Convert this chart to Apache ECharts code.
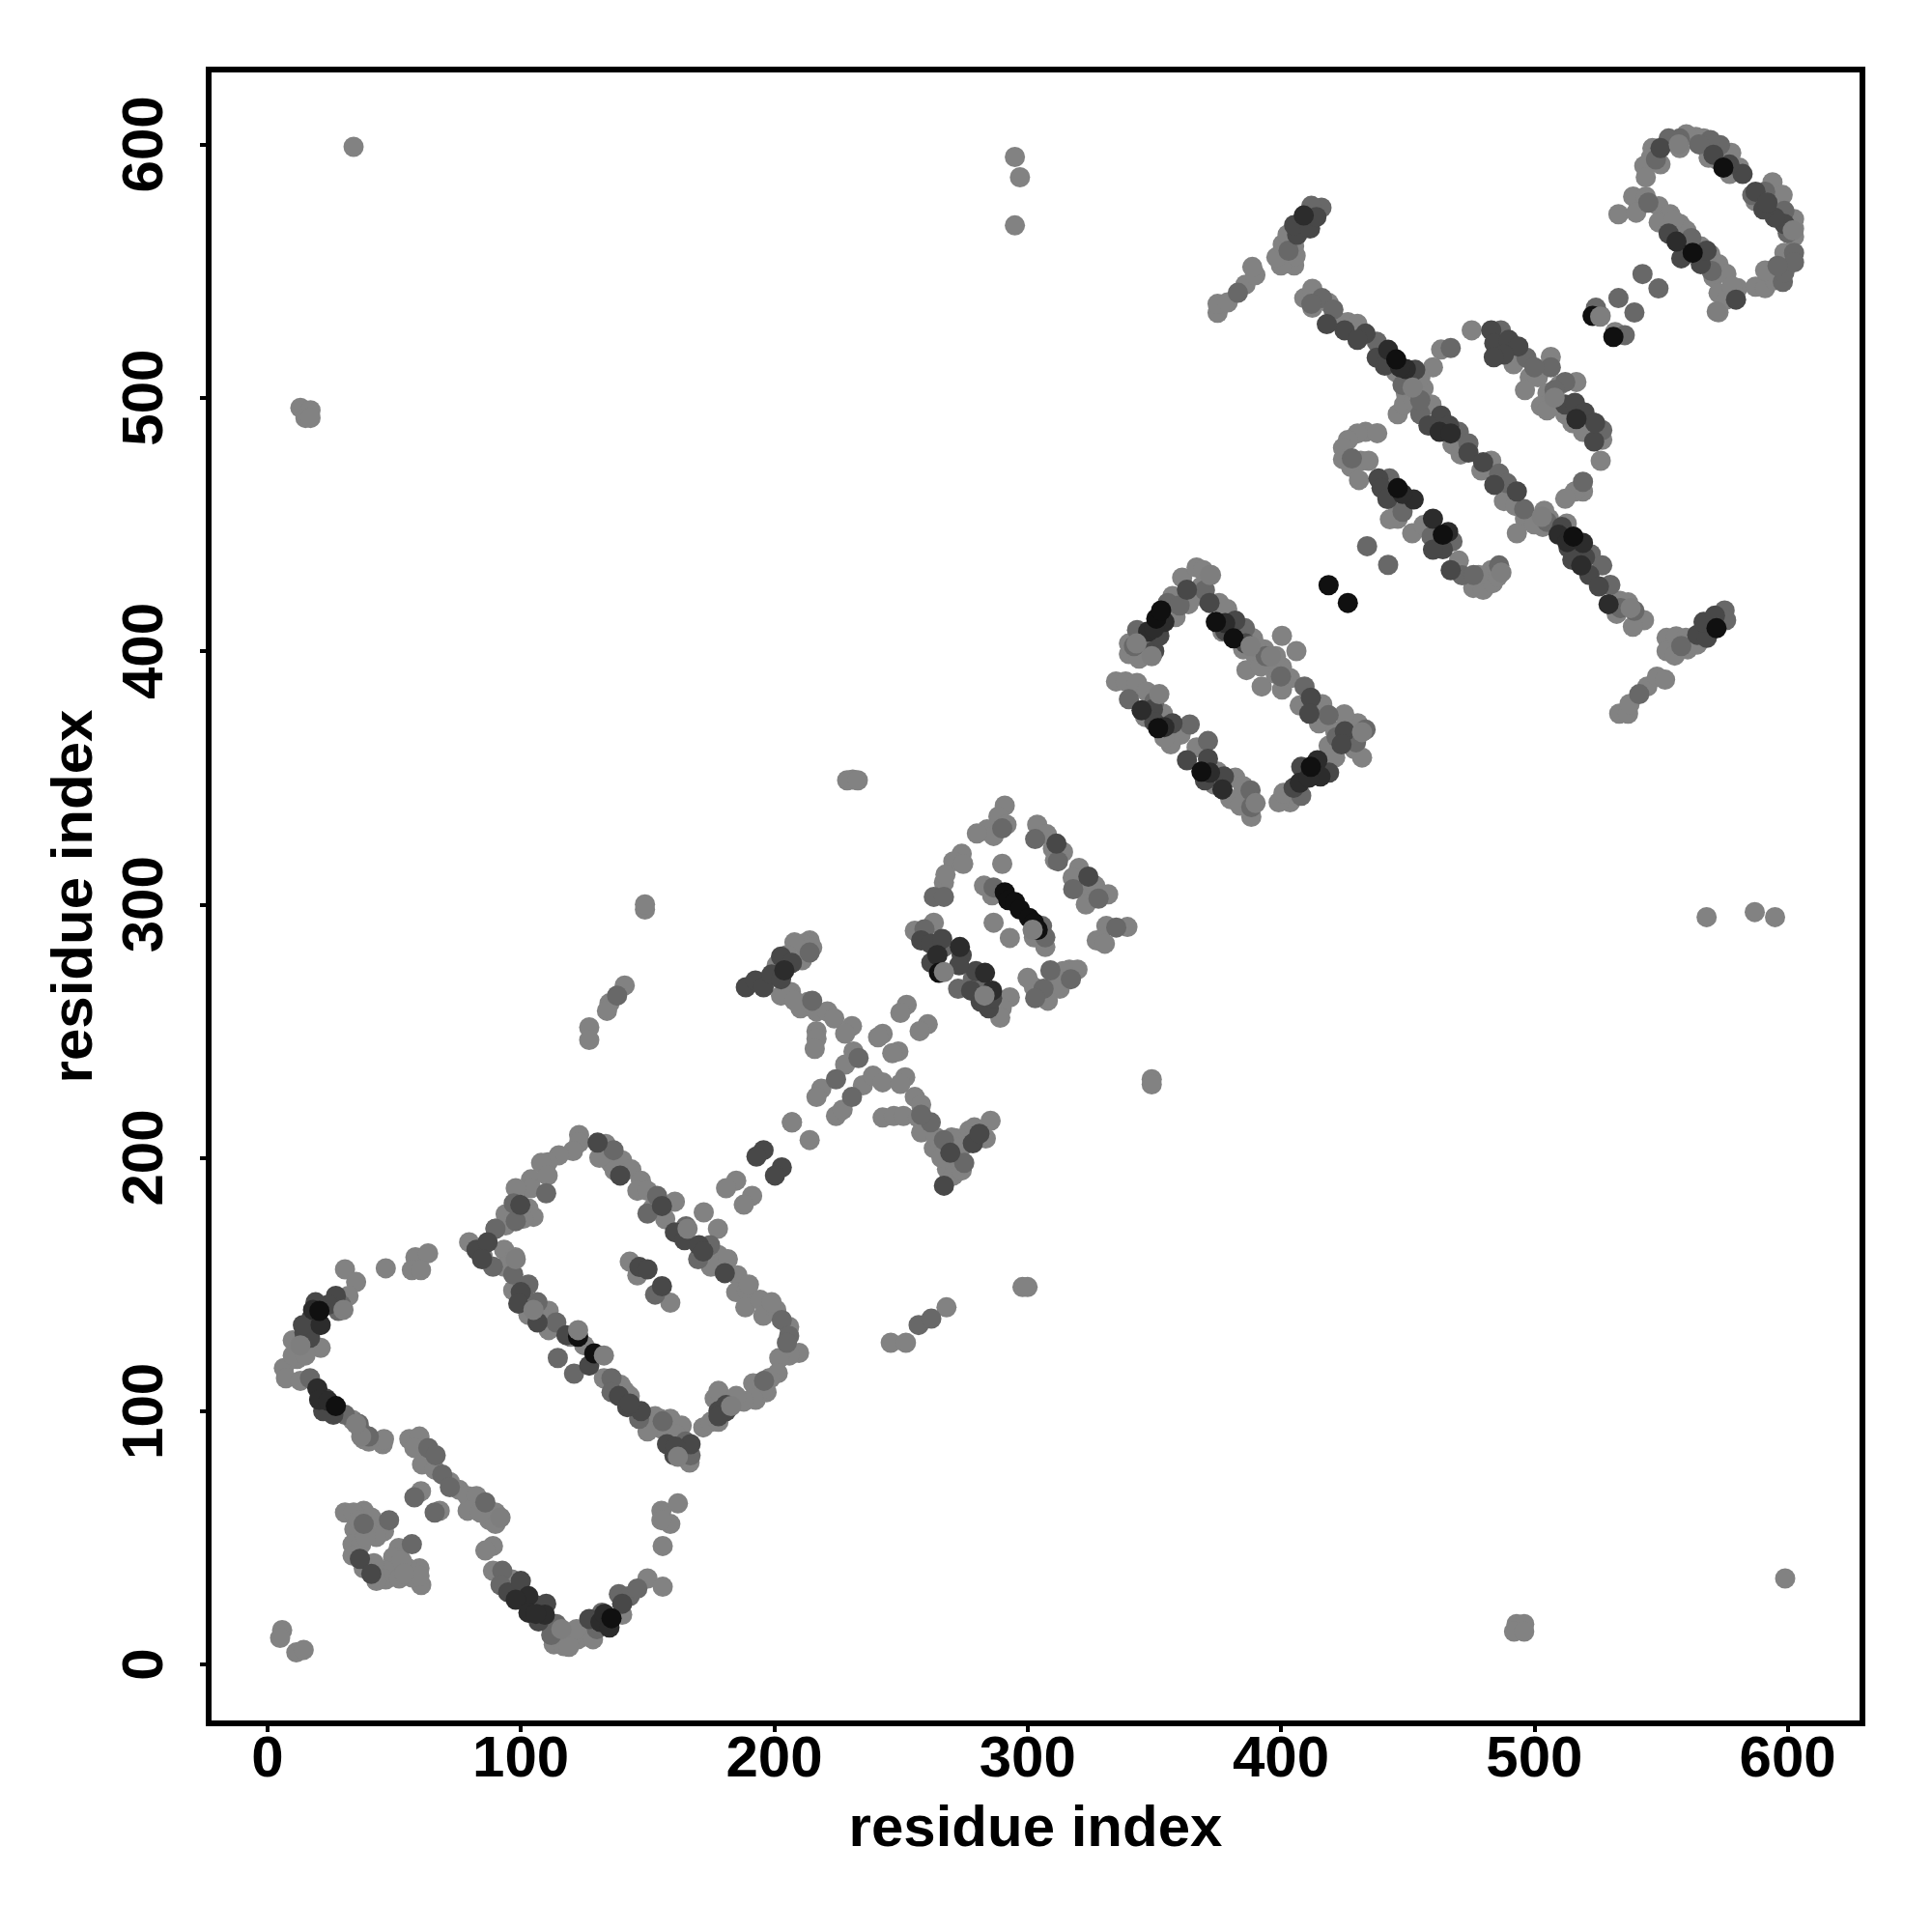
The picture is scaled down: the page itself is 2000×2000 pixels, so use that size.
<!DOCTYPE html>
<html><head><meta charset="utf-8">
<script src="https://cdn.jsdelivr.net/npm/echarts@6/dist/echarts.min.js"></script>
<style>html,body{margin:0;padding:0;background:#fff}#c{width:2000px;height:2000px}</style></head>
<body><div id="c"></div>
<script>
const tickValues=[0,100,200,300,400,500,600];
const axisTitle="residue index";
const lightPts=[[5.8,13.6],[5,10.5],[11.4,4.8],[14.3,5.8],[34,599],[295,595],[297,587],[295,568],[568,295],[587,297],[595,295],[599,34],[13,496],[17,495],[15,492],[17,492],[493,16],[496,16],[492,13],[496,13],
[30.6,156],[35,151],[32,145.5],[6.5,117],[10,128],[12.4,125],[11.7,120.6],[10,122],[7.3,113],[13,112],[33.6,96.5],[37,92],[38,89],[45.5,87],[46,89],[56,89],[60,90],[58,85.5],[61,79],[75.6,69],[79,66.5],[82.5,66.5],[90,60],[87.6,57],[90,55.5],[79,60.7],[89,46.8],[86,45],[89,37],[96.4,33.6],[113,8],[117,7.3],[119.7,11.7],[122.6,10],[125.5,12.4],[128.5,10],[140,19.7],[150,34],[156,30.7],[156,46.8],[155.5,60.7],[159,55.5],[162,63.6],[155.5,57],
[30.6,60],[38,60.7],[34,60],[34.3,53.4],[33.6,47.5],[37,47.5],[33.6,43],[46,52.6],[43,50.4],[38.7,50.4],[51.8,46],[49.6,42.4],[60,38],[60.7,31.4],[57,34.4],[55.5,38],[51,37],[46.7,37],[46.7,33.6],[43,33],[52,34],[60,35],[60.6,68.4],[68,60.7],
[46.7,156.4],[58.4,160.8],[63.4,162.3],[57,155.7],[60.6,155.7],[79.6,166.7],[93.4,163.7],[97.8,160.8],[93.4,157],[97,147.7],[103,143],[103,138],[111,139.6],[111,132],[119.7,129.4],[132.8,113],[139.4,110.4],[143,106],[153,98],[159,97],[156,92.8],[163.5,94.3],[162,87],[166.6,79.7],[172,93.6],[175,95.8],[176.5,105],[178,95.8],[188,103.8],[192.7,104.5],[192.7,110],[198.5,113],[197,107.5],
[123,209],[123,206],[120.6,202.7],[115,201],[110.6,198.2],[108,198],[104,191.5],[104,188],[110.6,193],[94,177.7],[94,173.3],[105,176.7],[103,180],[133.5,205.5],[135.5,198],[140,199],[143.6,195.4],[147.4,191],[146,187],[160.8,182.7],[157,175.8],[172.2,178.5],[177.8,172],[173.5,160],[178,161.6],[181.7,160],[185.5,153.6],[185,147],[189.3,147.7],[188.6,141],[194.4,144],[195.7,137.7],[200.8,140],[205.9,133.3],[209.8,123],[206,122],[202,121],[201.4,115],[198,113],[195.7,109],[191.7,111],[191.7,105],[188,104],[143,159],[146,153.6],[159,142.8],
[141,268],[135,261],[134,258],[127,251.5],[127,246.5],[207,214],[214,207],[185,191],[181,188],[191.3,185],[188,181.5],[246,127],[252,127],[268,141],
[231,349.3],[228.8,349],[233,349],[214,285.8],[211,284.5],[211,278],[206.6,265.4],[202.7,264],[210.4,259],[213.5,261.6],[216.7,257.8],[221,257.8],[223.7,255],[216.7,250],[216.7,247],[216,243],[230.7,252],[228,249],[231.3,242],[228,236.8],[218.6,227.3],[216.7,224],[242.8,248.9],[241,247.6],[249,242],[246.6,241.3],[252.3,260.4],[249.8,257.2],[260.6,252.7],[257.4,250],[235,228.6],[239,232.4],[242.8,229.8],[251.7,231.8],[249.8,229.2],[255.5,224],[258,221],[242.8,215.9],[247.2,216.5],[251,216.5],[224.4,216.5],[227,219],[256.8,215.9],[258,210],[263,203.8],[272,207.6],[268.2,195.5],[270.7,193],[273.3,199],[285.4,214.6],[283.5,207.6],[277,210.8],[207,214],[349,231],[349,229],[149,298],[149,300],[298,149],[300,149],
[291,339],[288.5,334.7],[291.7,331.5],[284,329.6],[286.6,327],[274,320],[270.7,317],[274.6,316],[267,308.7],[267.6,311.8],[303.8,331.5],[307.6,327.7],[314,320.7],[310.8,317.5],[320.3,314.4],[317.8,310.6],[321.6,306],[326.7,307.4],[331.8,304],[331.1,291.5],[339.4,291.1],[327.3,285.8],[330.5,284.5],[316.5,274.3],[319.7,274.3],[314,273.7],[310.8,269.9],[302.5,267.3],[312.7,266.7],[282.8,307.4],[286,303.6],[302.5,287],[307,283.2],[286.6,292.8],[293,286.8],[255.5,289.6],[263,292.8],[288.5,261.6],[293,263.3],[289.8,259],[289.2,255.3],
[340,398.8],[340,403],[361,429],[366.7,433],[369.3,431.9],[372.4,430],[368.6,425.5],[366.7,421.7],[357.2,421.7],[358.4,413.4],[363.5,418.5],[375.6,419],[378.8,416.6],[376.9,407.7],[389,405],[385.1,400.7],[393.4,400.7],[389.6,398.8],[400.4,406],[406.1,400],[386.4,392.5],[392.4,386],[400.4,393.7],[397.9,391],[403.6,389.3],[400.4,384.8],[416.3,379],[407.4,378.5],[415,371.5],[421.4,368.3],[430.3,371.5],[429.6,364.5],[429,361.3],[418.8,362.6],[421.4,358],[403.6,340.3],[399.1,340.3],[401,344],[334.9,388],[338.7,388],[343.2,387.4],[347,384],[350.2,382.3],[353.4,375.3],[346.4,374],[360.4,367],[356.5,363.2],[354,365.8],[366.7,362],[375,352.4],[373.7,347.3],[382,350],[385.1,346.7],[380,341.6],[387.7,342.9],[383.9,339],[388.3,334.6],
[409.2,539.3],[412.4,543],[412.4,535.5],[418.8,537.4],[421.9,530.4],[426.4,529.8],[430.2,529.1],[451.8,506.2],[456.3,503.7],[449.3,501.8],[446.1,493.5],[448.6,497.3],[452.4,498.6],[459.4,497.3],[445.5,510],[467.7,481.5],[470.9,477.6],[483,475.1],[479.1,471.3],[486.1,470],[488,459.2],[492.5,457.3],[496.3,452.2],[493.1,446.5],[503.9,455.4],[505.8,452.2],[503.3,449],[512.8,450.3],[533.8,419.8],[537,419.2],[532.5,414.7],[543.3,412.2],[538.9,409.6],[533.5,375.3],[537,375.3],[537.6,379.1],[544.6,386],[548.4,389.9],[551.6,388.7],[552.2,405.2],[552.2,400],[555.4,398.2],[556,405.8],[560.5,400.7],[559.8,405.2],[564.3,402.6],[375,533.5],[375,537],[379,537.6],[386,544.6],[389.9,548.4],[388.7,551.6],[405.2,552.2],[400,552.2],[398.2,555.4],[405.8,556],[400.7,560.5],[405.2,559.8],[402.6,564.3],
[475.3,526.6],[463.2,519],[460,512],[491.8,513.2],[506.5,516.1],[498.2,508.1],[501.4,508.1],[496.3,503],[505.2,501.8],[502.6,496.7],[507.1,499.2],[516.6,506.2],[512.2,493.5],[523,490.3],[519.2,486.5],[526.8,483.4],[526.2,475.1],[519.2,463],[516,463],[512.2,460.1],[433.4,486.5],[430.2,485.9],[426.4,483.3],[424.5,480.2],[424.5,475.7],[427.7,472.6],[434.6,475.1],[431.5,475.1],[430.8,467.5],[446.1,457.3],[446.1,452.2],[451.8,446.5],[456.3,449.7],[470.2,435.7],[475.9,424.9],[479.8,424.2],[483.6,426.8],[483,431.9],[485.5,429.3],[526.2,532.3],[531.9,525.9],
[533.2,572.4],[539,579.4],[544,579.4],[540.2,573],[549.1,575.6],[553.6,572.4],[549.1,569.2],[557.4,568.6],[560,566],[565.7,559.7],[569.5,556.5],[572.7,552.7],[570.7,547.6],[575.8,548.9],[580.3,543.2],[572.7,541.3],[572.7,533.7],[575.8,538.7],[587.3,543.8],[591.1,543.2],[594.9,546.4],[591.1,550.2],[598.7,557.2],[602.5,570.5],[602.5,563.5],[602.5,566.7],[595.5,576.9],[587.3,577.5],[580.9,590.8],[577.1,588.3],[577.7,596.6],[566.9,602.3],[563.8,602.9],[568.8,594.7],[557.4,598.5],[546.6,598.5],[549.8,592.1],[546,594.7],[543.4,591.5],[544,587],
[197,270],[201,276],[208,285],[205,280],[215,283],[208,262],[275,205],[279,212],[264,208],[266,200],[270,208],[274,195],[272,204],[131,200],[137,195],[150,187],[152,180],[175,157],[190,150],[199,143],[85,161],[108,137],[125,126],[141,108],[150,92],[155,97],[161,91],[90,172],[98,188],[101,176],[178,108],[185,106],[21,125],[15,122],[40,88],[66,77],[72,72],[84,60],[119,7],[122,14],[41,58],[36,57],[38,38],[42,40],[53,41],[54,36],[290,316],[280,328],[310,322],[323,300],[300,271],[308,262],[392,394],[398,398],[390,402],[344,397],[425,375],[432,358],[510,505],[505,495],[515,490],[455,508],[500,450],[445,460],[438,486],[443,452],[478,430],[560,561],[555,570],[578,544],[594,585],[598,580],[560,604],[572,594]];
const midPts=[[29,142],[28,139.6],[16.8,113],[30.6,98.6],[63.5,85.5],[66.4,82.6],[69,75],[86,64],[92.7,37],[92,31.4],[99.6,30],[106,23.4],[114,16],[112,11.7],[130,14],[132,20.5],[138.7,27.8],[143,27],[146,30],
[38,55.5],[48,57],[57,47.5],[58,66],[66,60],
[89,157],[97,154],[106.6,143],[114,135],[114.6,121],[121,114.8],[135.8,113],[135.8,107.5],[146.7,97],[167,82.6],[181,102.3],[97.2,182],[98,175],[136.6,203],[153.8,185],[165.2,173],[174.7,165.5],[203,136],[205.9,129.7],[153,146],[138,264],[257,134],[262,136.5],
[214,281],[233.3,239.4],[224.4,231],[230.7,224],[261.8,214],[267,207],[303,325.8],[263,303],[267,303],[335,290.9],[317.1,270.5],[306.3,266.7],[303,263],[286.6,306.7],[305.7,291.5],[307,287],[259.3,290.2],[267,283.2],[278.4,270.5],[272.6,266.7],[282.2,266.7],[328,302.3],
[343.2,408.3],[347,404],[355.3,419],[385.8,409],[409.3,386],[418.8,374.7],[433.4,369],[429.6,364],[408,342.9],[340,381],[364,371],[371.2,364.5],[388.3,338.4],[434,441.4],[442.3,434],
[416.2,539.3],[420.7,534.8],[437.8,522.1],[455,493.5],[470.2,486.5],[486.1,470],[489.3,466.2],[522.3,438.2],[526.8,433.8],[530,426.1],[539.5,415.9],[541.4,383],[575.1,416],[575.7,412.2],[383,541.4],[416,575],[412,575.7],
[467,519.6],[486.8,526.6],[496.9,515.8],[506.5,512],[512.2,506.2],[526.8,487.2],[519.2,466.8],[442.9,468.1],[467.7,443.3],[459.4,445.2],[471.5,429.9],[486.1,433.8],[542.7,548.8],[549,543.1],[533.2,539.3],[539.5,533.6],[524.3,535.5],[535.7,524.7],
[598.1,545.7],[598.7,549.5],[602.5,557.2],[602.5,553.4],[598.7,573.7],[591.1,581.3],[573.3,599.7],[569.5,601.7],[557.4,602.3],[553,602.3],
[150,178],[170,160],[110,186],[196,112],[40,90],[36,95],[72,70],[90,172],[103,150],[156,96],[165,88],[205,127],[215,262],[275,198],[258,217],[290,330],[312,317],[318,306],[309,274],[342,402],[360,418],[370,424],[394,398],[400,390],[422,366],[350,380],[388,345],[412,537],[448,505],[455,499],[474,482],[496,456],[505,451],[534,417],[558,402],[403,558],[500,512],[508,503],[428,476],[448,455],[476,430],[545,577],[562,563],[570,550],[596,552],[600,565],[586,580],[565,600],[548,594]];
const darkPts=[[27,145.5],[17.5,137],[14.6,131],[16.8,129],[23,105],[26,98.6],[95,28.5],[107,17],
[36.5,41.7],[41,35.8],
[82.5,163.7],[86.9,166.7],[84.7,160],[100,147],[99,142.5],[106.6,135],[138.7,106],[142,101.6],[147.4,100],[157.7,87],[167,87],[160.6,82.6],[178,100],[181,100],
[99.8,181.4],[130.3,206],[139.2,193],[155.7,181],[160.8,170.6],[164.6,167.5],[170.3,165.5],[180.5,154.5],[181,102.4],[178,98],[146.8,156.9],[150,156],[155.7,149.3],
[195.8,203],[193,200.5],[203,196.2],[200.3,193],
[188.8,267.3],[192.6,270],[195.8,267.3],[199,272.4],[202.7,279.4],[202.7,270.5],[207,276.9],[269.5,202],[267,189],[278.4,205.7],[281,209.5],[311.4,324],[324,311],[258,285.8],[261.8,284.5],[266.3,286.4],[274,280],[279.6,273.7],[277.7,266],[281.5,261.6],[284.7,259],
[362.9,424.2],[371.8,419],[382,412],[411.8,381.6],[411.2,375.3],[425.2,368.3],[423.9,363.2],[408,354.3],[357.2,371.5],[349.5,377],[362.9,356.9],[371.2,357.5],[377.5,350.5],
[425.1,526.6],[418.1,529],[433.4,525.3],[430.2,522.8],[437.8,515.8],[441,512.6],[463.2,492.9],[458.2,489],[466.4,489],[474,478.3],[479.8,474.5],[484.2,465.6],[493.1,463],[510.9,449],[513.5,440.8],[521.7,430],[525.5,425.5],[564.3,406.4],[568.1,405.2],[566.8,411.5],[571.3,414],[406.4,564.3],[405.2,568.1],[411.5,566.8],[414,571.3],
[483,526.6],[484.2,521.5],[489.9,522.8],[493.7,520.2],[488,517],[512.2,497.3],[516,498],[519.8,494.2],[523.6,482.7],[438.5,468.1],[439.7,464.3],[463.9,440.2],[467,431.9],
[553,564.8],[565.7,552.7],[579.6,538.7],[598.7,568.6],[594.9,571.1],[590.4,574.3],[587.3,581.3],[582.2,588.3],[570.7,595.9],[549.8,598.5],
[24,142],[19,143],[14,134],[22,100],[110,24],[100,33],[127,18],[140,24],[161,86],[172,163],[127,118],[118,130],[143,103],[286,263],[273,276],[262,277],[350,400],[352,406],[378,408],[386,403],[405,346],[419,352],[350,372],[370,349],[442,514],[453,511],[520,437],[515,436],[484,516],[524,490],[442,460],[460,440],[558,555],[568,558],[577,592],[592,577]];
const darkerPts=[[21,134],[19.7,109],[20.4,104.5],[103,27],[98,25.6],[103,20.5],[109.5,19.7],[131.4,16.8],[135,14.6],
[204,274],[347.6,407.7],[354,411.5],[414.4,356.9],[415.6,350.5],[407.4,348],[345,376.6],[376.9,345.4],
[283.2,273],[286,266],[264.4,280],[273.3,283.2],
[442.3,518.9],[449.3,511.3],[462.6,486.5],[467,485.9],[509.6,445.9],[519.2,442.7],[518.5,433.8],[529.3,418.5],[409,571.9],[516.6,491.6],[452.4,459.8],[460,452.2],[556.1,561.6],
[18,140],[24,104],[106,20],[133,20],[350,409],[378,411],[411,350],[354,370],[372,352],[447,512],[513,443],[448,462],[466,447]];
const blackPts=[[20.5,139.6],[27,102],[135.8,18.3],[122.6,129.4],[129,122.8],[265,273],[291,304.8],[292.4,301.7],[295,301],[297,298],[300.6,294.7],[302.5,292.8],[304,290],[350.8,412.8],[352.7,416],[374.3,411.5],[381.3,405],[411.8,354.3],[351.5,369.6],[368.6,352.4],[418.8,426],[426.4,419],[445.5,515.1],[515.4,445.2],[571.9,409],[446.1,464.3],[463.9,445.9],[523,532.3],[531.2,524],[562.5,557.2],[574.6,590.8]];
const topPts=[[122.6,132],[132.8,122],[267,273.3],[37,90],[92,58],[526,532],[283,264],[302,290],[165.8,172],[98,160],[105,140],[162,82],[183,102],[30,140],[13,126],[35,95],[116,14],[349,398],[343,403],[372,430],[388,402],[396,398],[432,368],[390,340],[352,383],[487,431],[538,417],[452,504],[503,453],[508,500],[602,566],[572,534],[557,600]];

const groups=[[lightPts,'#828282'],[midPts,'#686868'],[darkPts,'#484848'],[darkerPts,'#2c2c2c'],[blackPts,'#101010'],[topPts,'#7e7e7e']];
const font='"Liberation Sans"';
const chart=echarts.init(document.getElementById('c'),null,{renderer:'canvas'});
function axis(isY){return {type:'value',min:-23.2,max:629.5,splitLine:{show:false},
 axisLine:{show:false,onZero:false},
 axisTick:{show:true,length:9,customValues:tickValues,lineStyle:{color:'#000',width:4}},
 axisLabel:{show:true,customValues:tickValues,color:'#000',fontFamily:font,fontWeight:'bold',fontSize:60,margin:isY?35:8,rotate:isY?90:0,hideOverlap:false,showMinLabel:true,showMaxLabel:true},
 name:axisTitle,nameLocation:'middle',nameGap:isY?108:80,nameRotate:isY?90:0,
 nameTextStyle:{color:'#000',fontFamily:font,fontWeight:'bold',fontSize:60}};}
chart.setOption({animation:false,backgroundColor:'#fff',
 grid:{show:true,left:216,right:72,top:72,bottom:216,borderColor:'#000',borderWidth:6,backgroundColor:'transparent'},
 xAxis:axis(false),yAxis:axis(true),
 series:groups.map(([d,c],i)=>({type:'scatter',data:d,symbol:'circle',symbolSize:21,silent:true,z:2+i,itemStyle:{color:c,opacity:1},large:false,progressive:0}))
});
</script></body></html>
